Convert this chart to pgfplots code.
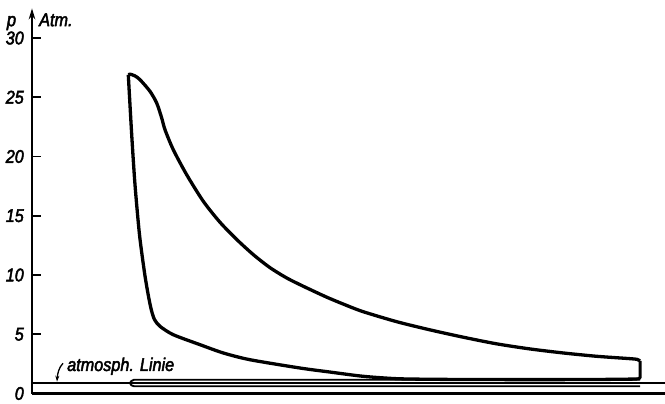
\documentclass[border=0pt]{standalone}
\usepackage{fontspec}
\setmainfont{Liberation Sans}[FakeStretch=0.88, FakeBold=2.5]
\usepackage{pgfplots}
\pgfplotsset{compat=1.18}
\usetikzlibrary{arrows.meta}

\begin{document}
\begin{tikzpicture}[line cap=round, line join=round]
\begin{axis}[
  x=1bp, y=11.85bp,
  xmin=0, xmax=633, ymin=0, ymax=32.5,
  clip=false,
  axis x line=bottom, axis y line=left,
  x axis line style={-, line width=2.3bp},
  y axis line style={-{Stealth[length=11bp,width=6.5bp]}, line width=2.1bp},
  xtick=\empty,
  ytick={0,5,...,30},
  tick align=inside,
  major tick length=9bp,
  ytick style={line width=1.8bp, black},
  /pgf/number format/assume math mode=true,
  yticklabel style={font=\fontsize{18.5}{20}\selectfont\itshape, inner sep=0pt, xshift=-8bp},
]
\coordinate (o) at (axis cs:0,0);

% expansion line, from the pressure peak down to the end of the stroke
\addplot[line width=3.3bp, smooth, tension=0.45] coordinates {
  (96.3,26.90) (98,26.95) (103,26.80) (108,26.48) (118,25.50) (124.7,24.51)
  (129.7,23.25) (133,22.26) (141.3,20.57) (154.7,18.46) (171.3,16.22)
  (188,14.45) (204.7,13.00) (221.3,11.72) (238,10.62) (254.7,9.75)
  (271.3,9.05) (294.7,8.13) (314.7,7.43) (331.3,6.90) (364.7,6.06)
  (398,5.37) (431.3,4.75) (464.7,4.19) (498,3.76) (531.3,3.42)
  (564.7,3.14) (598,2.94) (605,2.88) (608,2.75)
};
% release at the end of the stroke
\addplot[line width=3bp] coordinates {(608,2.75) (608,1.31) (605,1.22)};
% compression line back to the peak
\addplot[line width=3.3bp, smooth, tension=0.45] coordinates {
  (605,1.22) (560,1.18) (500,1.17) (440,1.18) (400,1.2) (364.7,1.25)
  (331.3,1.45) (298,1.81) (268,2.15) (218,2.85) (191.3,3.42) (168,4.12)
  (141.3,4.96) (128,5.67) (122.5,6.24) (119.5,7.0) (116.8,8.06) (112.8,10.03)
  (107.5,13.40) (103,17.62) (99.7,21.84) (96.3,26.90)
};

% exhaust and suction loop
\addplot[line width=1.9bp] coordinates {
  (608,1.16) (102,1.16) (99.3,1.05) (98,0.88) (99.3,0.70) (102,0.61) (608,0.61)
};

% atmospheric line
\addplot[line width=1.5bp] coordinates {(0,0.89) (633,0.89)};

\node[anchor=base, inner sep=0pt, font=\fontsize{19}{20}\selectfont\itshape] at (axis cs:-20.5,31.0) {p};
\node[anchor=base west, inner sep=0pt, font=\fontsize{18.5}{20}\selectfont\itshape] at (axis cs:7,31.0) {Atm.};
\node[anchor=base west, inner sep=0pt, font=\fontsize{18.5}{20}\selectfont\itshape] at (axis cs:35,1.90) {atmosph. Linie};
\draw[line width=1.3bp, -{Stealth[length=6bp,width=4bp]}]
  (axis cs:31,2.55) .. controls (axis cs:27,2.2) and (axis cs:25.5,1.7) .. (axis cs:25,1.0);
\end{axis}
\pgfresetboundingbox
\path[use as bounding box] ([shift={(-32bp,-10.5bp)}]o) rectangle ([shift={(633bp,393.5bp)}]o);
\end{tikzpicture}
\end{document}
